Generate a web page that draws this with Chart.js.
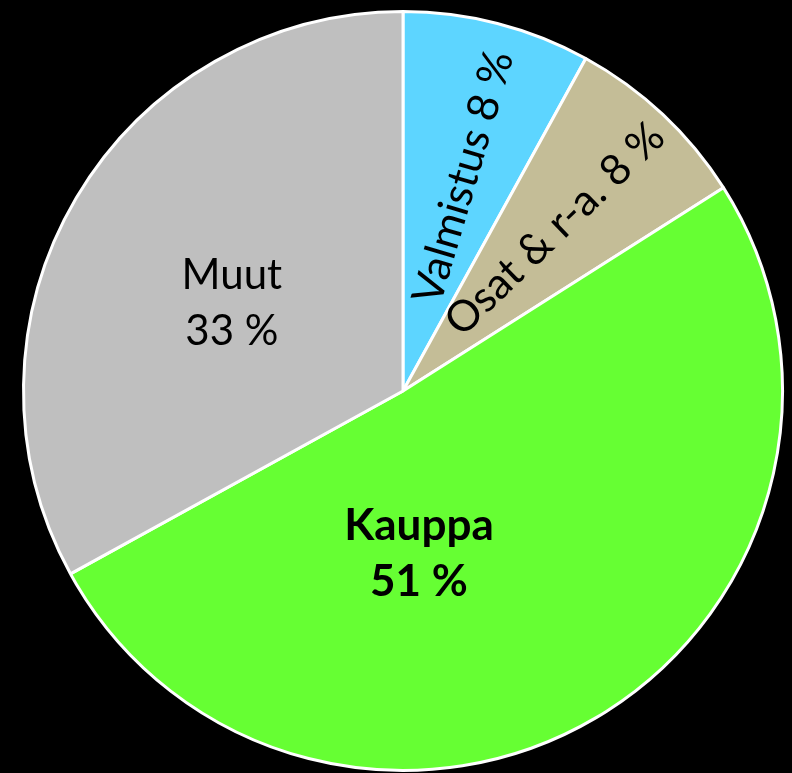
<!DOCTYPE html>
<html>
<head>
<meta charset="utf-8">
<script src="https://cdn.jsdelivr.net/npm/chart.js@4/dist/chart.umd.min.js"></script>
<style>
    html, body { margin: 0; padding: 0; background: #000; }
    #wrap { width: 792px; height: 773px; }
</style>
</head>
<body>
<div id="wrap"><canvas id="share-chart"></canvas></div>
<script>
const labels = ["Valmistus", "Osat & r-a.", "Kauppa", "Muut"];
const shares = [8, 8, 51, 33];
const colors = ["#5DD5FF", "#C4BD97", "#66FF33", "#BFBFBF"];

// label placement: rotated along the radius, or flat at an offset (fractions of radius)
const labelStyle = [
    { rotate: true, dist: 0.585, shift: 0.025, tilt: 0.035, font: "normal 43px Lato" },
    { rotate: true, dist: 0.585, shift: 0.0, tilt: 0.05, font: "normal 43px Lato" },
    { rotate: false, dx: 0.042, dy: 0.43, font: "bold 44px Lato" },
    { rotate: false, dx: -0.451, dy: -0.232, font: "normal 42px Lato" }
];

const sliceLabels = {
    id: "sliceLabels",
    afterDatasetsDraw(chart) {
        const ctx = chart.ctx;
        const arcs = chart.getDatasetMeta(0).data;
        arcs.forEach((arc, i) => {
            const p = arc.getProps(["x", "y", "startAngle", "endAngle", "outerRadius"], true);
            const st = labelStyle[i];
            const text = labels[i];
            const pct = shares[i] + " %";
            ctx.save();
            ctx.fillStyle = "#000";
            ctx.font = st.font;
            ctx.textAlign = "center";
            ctx.textBaseline = "middle";
            if (st.rotate) {
                const a = (p.startAngle + p.endAngle) / 2;
                const pa = a + st.shift;
                ctx.translate(p.x + Math.cos(pa) * st.dist * p.outerRadius, p.y + Math.sin(pa) * st.dist * p.outerRadius);
                ctx.rotate(a + st.tilt);
                ctx.fillText(text + " " + pct, 0, 0);
            } else {
                const cx = p.x + st.dx * p.outerRadius;
                const cy = p.y + st.dy * p.outerRadius;
                ctx.fillText(text, cx, cy - 28);
                ctx.fillText(pct, cx, cy + 28);
            }
            ctx.restore();
        });
    }
};

new Chart("share-chart", {
    type: "pie",
    data: {
        labels: labels,
        datasets: [
            {
                data: shares,
                backgroundColor: colors,
                borderColor: "#FFFFFF",
                borderWidth: 3
            }
        ]
    },
    options: {
        responsive: true,
        maintainAspectRatio: false,
        animation: false,
        layout: {
            padding: { left: 20, right: 6, top: 10, bottom: 1 }
        },
        plugins: {
            legend: { display: false },
            tooltip: { enabled: false }
        }
    },
    plugins: [sliceLabels]
});
</script>
</body>
</html>
